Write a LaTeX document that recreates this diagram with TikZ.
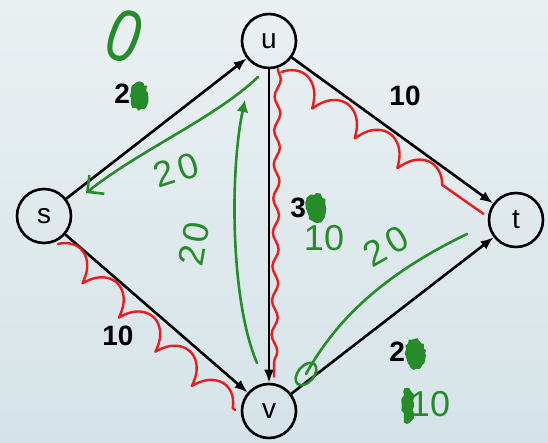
\documentclass[tikz,border=0pt]{standalone}
\usepackage{fontspec}
\setmainfont{Liberation Sans}
\usetikzlibrary{arrows.meta,decorations.pathmorphing,calc}
\definecolor{PenGreen}{RGB}{38,140,42}
\definecolor{PenRed}{RGB}{236,28,28}
\definecolor{BgTop}{RGB}{234,240,242}
\definecolor{BgBot}{RGB}{213,227,232}

\tikzset{
  vertex/.style={circle,draw,line width=2.6pt,minimum size=54pt,inner sep=0pt,
                 font=\fontsize{28}{28}\selectfont},
  flow/.style={line width=2.6pt,-{Latex[length=13pt,width=10pt]}},
  weight/.style={font=\bfseries\fontsize{28}{28}\selectfont},
  pen/.style={PenGreen,line width=2.6pt,line cap=round,line join=round},
  redpen/.style={PenRed,line width=2.4pt,line cap=round,line join=round},
  scrawl/.style={PenGreen,inner sep=0pt,font=\fontsize{36}{36}\selectfont},
  blot/.style={PenGreen,decorate,decoration={random steps,segment length=3pt,amplitude=1.5pt}}
}

\begin{document}
\begin{tikzpicture}[x=1pt,y=-1pt]
  \useasboundingbox (0,0) rectangle (548,442);
  \shade[top color=BgTop,bottom color=BgBot] (0,0) rectangle (548,442);

  \node[vertex] (s) at (44,216) {s};
  \node[vertex] (u) at (269,41) {u};
  \node[vertex] (v) at (269,411) {v};
  \node[vertex] (t) at (516,220) {t};

  \draw[flow] (s) -- (u);
  \draw[flow] (u) -- (t);
  \draw[flow] (u) -- (v);
  \draw[flow] (s) -- (v);
  \draw[flow] (v) -- (t);

  \node[weight] (su) at (130,94) {20};
  \node[weight] (ut) at (405,96) {10};
  \node[weight] (uv) at (306,208) {30};
  \node[weight] (sv) at (118,336) {10};
  \node[weight] (vt) at (405,352) {20};

  % crossed out by hand
  \fill[blot] ($(su.center)+(9,2)$) ellipse [x radius=9pt,y radius=14pt];
  \fill[blot] ($(uv.center)+(10,0)$) ellipse [x radius=10pt,y radius=14pt];
  \fill[blot] ($(vt.center)+(10,2)$) ellipse [x radius=10pt,y radius=15pt];

  % residual paths
  \draw[redpen,decorate,decoration={coil,amplitude=12pt,segment length=52pt,aspect=0.6}]
    ($(u.-55)+(-4,8)$) -- ($(t.150)+(-8,8)$);
  \draw[redpen,decorate,decoration={snake,amplitude=3pt,segment length=34pt}]
    ($(u.-80)+(4,0)$) -- ($(v.88)+(4,-6)$);
  \draw[redpen,decorate,decoration={coil,amplitude=12pt,segment length=50pt,aspect=0.6}]
    ($(s.-45)+(-6,8)$) -- ($(v.170)+(-6,4)$);

  % new flows
  \coordinate (g1a) at (86,193);
  \coordinate (g1b) at (258,77);
  \draw[pen,{Straight Barb[length=12pt,width=24pt]}-] (g1a) .. controls (140,150) and (215,118) .. (g1b);
  \coordinate (g2a) at (245,100);
  \coordinate (g2b) at (257,363);
  \draw[pen,{Latex[length=12pt,width=12pt]}-] (g2a) .. controls (230,170) and (230,300) .. (g2b);
  \coordinate (g3a) at (306,374);
  \coordinate (g3b) at (467,234);
  \draw[pen] (g3a) .. controls (335,322) and (380,276) .. (g3b);
  \draw[pen] (g3a) ellipse [x radius=8pt,y radius=13pt,rotate=-40];

  \node[scrawl,rotate=-20,font=\fontsize{74}{74}\selectfont,xscale=0.8,
        text height=53pt,text depth=0pt] (top0) at (125,35) {0};
  \node[scrawl,rotate=18] (n1) at (176,170) {2\kern5pt0};
  \node[scrawl,rotate=80] (n2) at (194,244) {2\kern3pt0};
  \node[scrawl] (n3) at (324,238) {10};
  \node[scrawl,rotate=30] (n4) at (386,246) {2\kern6pt0};
  \node[scrawl] (n5) at (430,404) {10};
  \fill[blot] ($(n5.center)+(-22,2)$) ellipse [x radius=6pt,y radius=17pt];
\end{tikzpicture}
\end{document}
